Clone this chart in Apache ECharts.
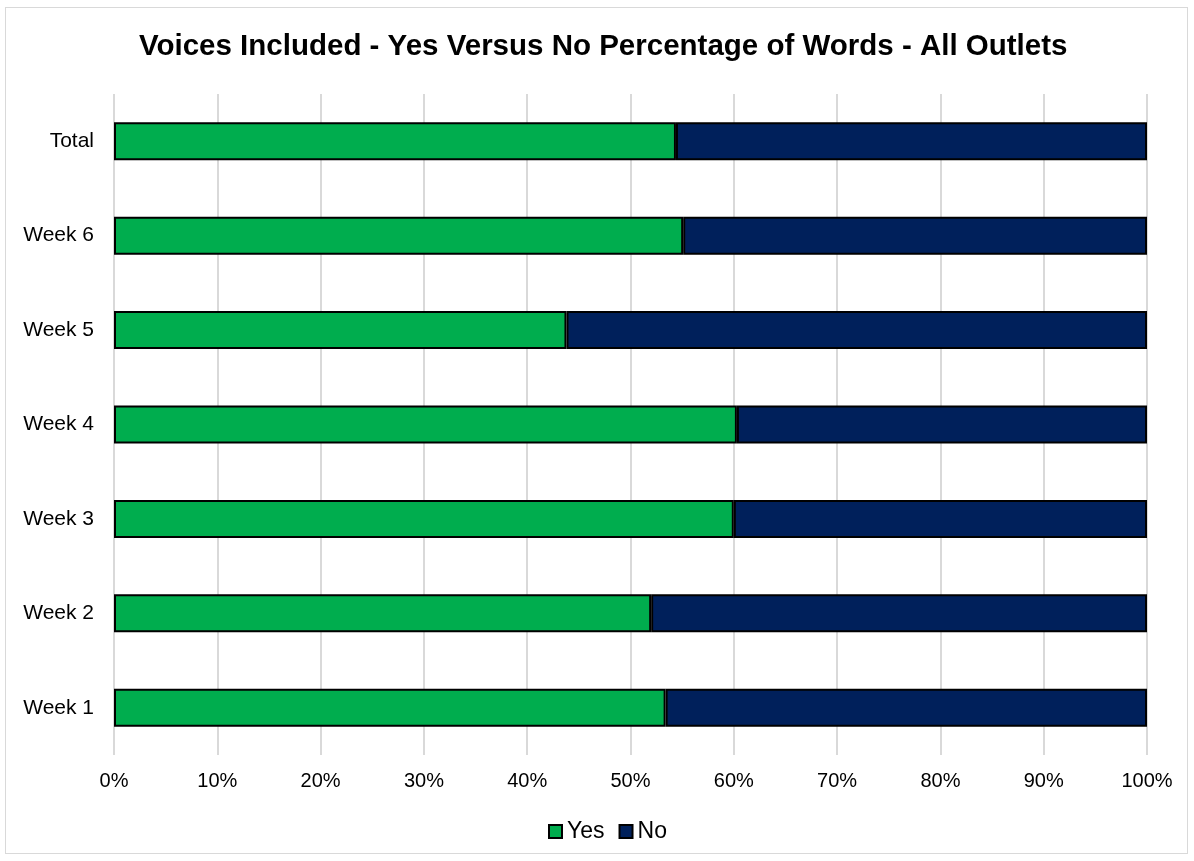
<!DOCTYPE html>
<html>
<head>
<meta charset="utf-8">
<script src="https://cdn.jsdelivr.net/npm/echarts@6/dist/echarts.min.js"></script>
<style>
html,body{margin:0;padding:0;background:#fff;}
#frame{position:absolute;left:5px;top:7px;width:1183px;height:847px;border:1px solid #d9d9d9;box-sizing:border-box;}
#chart{position:absolute;left:0;top:0;width:1194px;height:861px;}
</style>
</head>
<body>
<div id="frame"></div>
<div id="chart"></div>
<script>
const categories = ['Week 1', 'Week 2', 'Week 3', 'Week 4', 'Week 5', 'Week 6', 'Total'];
const yesValues = [53.4, 52.0, 60.0, 60.3, 43.8, 55.1, 54.4];
const noValues = [46.6, 48.0, 40.0, 39.7, 56.2, 44.9, 45.6];
const xTicks = [0, 10, 20, 30, 40, 50, 60, 70, 80, 90, 100];

const chart = echarts.init(document.getElementById('chart'), null, {renderer: 'canvas'});
const font = 'Liberation Sans, Arial, sans-serif';
chart.setOption({
  animation: false,
  title: {
    text: 'Voices Included - Yes Versus No Percentage of Words - All Outlets',
    left: 134,
    top: 27,
    textStyle: {fontFamily: font, fontSize: 29.5, fontWeight: 'bold', color: '#000'}
  },
  legend: {
    data: ['Yes', 'No'],
    top: 815,
    left: 543,
    icon: 'rect',
    itemWidth: 13,
    itemHeight: 13,
    itemGap: 14,
    textStyle: {fontFamily: font, fontSize: 23, color: '#000', padding: [0, 0, 0, 0]}
  },
  grid: {left: 114, right: 47, top: 94, bottom: 106, containLabel: false},
  xAxis: {
    type: 'value',
    min: 0,
    max: 100,
    interval: 10,
    axisLine: {show: false},
    axisTick: {show: false},
    splitLine: {lineStyle: {color: '#d9d9d9', width: 2}},
    axisLabel: {
      fontFamily: font, fontSize: 20, color: '#000', margin: 16,
      formatter: v => xTicks.includes(v) ? v + '%' : ''
    }
  },
  yAxis: {
    type: 'category',
    data: categories,
    axisLine: {show: false},
    axisTick: {show: false},
    splitLine: {show: false},
    axisLabel: {fontFamily: font, fontSize: 21, color: '#000', margin: 20}
  },
  series: [
    {
      name: 'Yes', type: 'bar', stack: 'total', data: yesValues, barWidth: 38,
      itemStyle: {color: '#00ad4e', borderColor: '#000', borderWidth: 2}
    },
    {
      name: 'No', type: 'bar', stack: 'total', data: noValues, barWidth: 38,
      itemStyle: {color: '#00205b', borderColor: '#000', borderWidth: 2}
    }
  ]
});
</script>
</body>
</html>
